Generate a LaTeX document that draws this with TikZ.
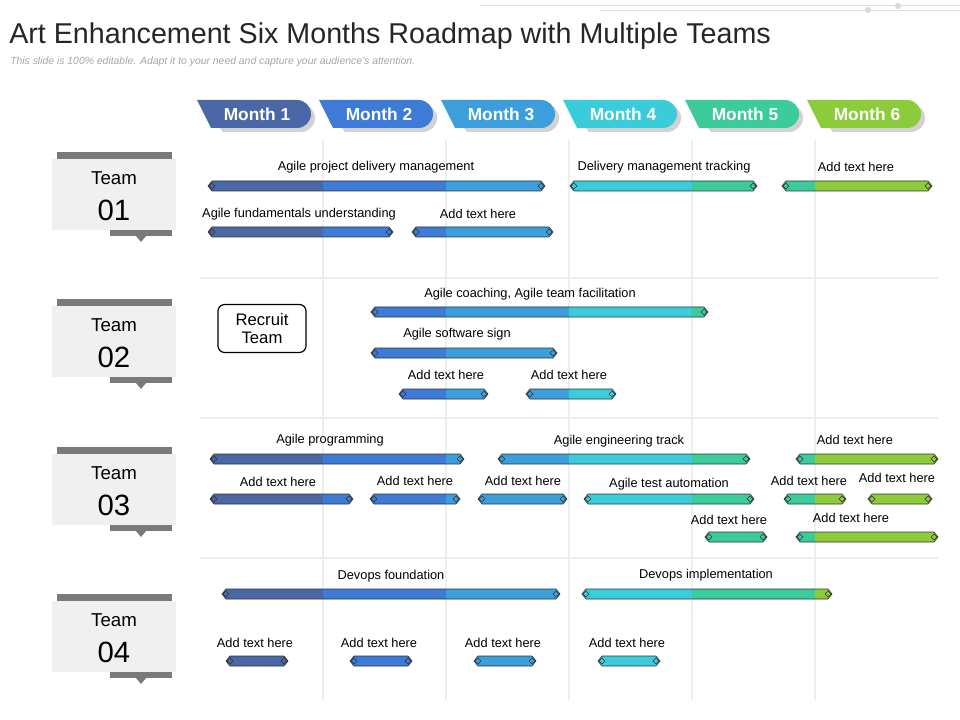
\documentclass[tikz,border=0pt]{standalone}
\usepackage{fontspec}
\setmainfont{Liberation Sans}
\definecolor{cA}{HTML}{4A68A6}
\definecolor{cB}{HTML}{3D7BD6}
\definecolor{cC}{HTML}{3C9FDB}
\definecolor{cD}{HTML}{3BCCDC}
\definecolor{cE}{HTML}{3CCB9A}
\definecolor{cF}{HTML}{8CCB3A}
\definecolor{grid}{HTML}{EEEEEE}
\definecolor{tbox}{HTML}{F0F0F0}
\definecolor{tdark}{HTML}{7A7A7A}
\newcommand\roadbar[3]{%
  \begin{scope}
    \clip (#1,#3) -- (#1+4,#3-5) -- (#2-4,#3-5) -- (#2,#3) -- (#2-4,#3+5) -- (#1+4,#3+5) -- cycle;
    \fill[cA] (0,#3-6) rectangle (323,#3+6);
    \fill[cB] (323,#3-6) rectangle (446,#3+6);
    \fill[cC] (446,#3-6) rectangle (569,#3+6);
    \fill[cD] (569,#3-6) rectangle (692,#3+6);
    \fill[cE] (692,#3-6) rectangle (815,#3+6);
    \fill[cF] (815,#3-6) rectangle (960,#3+6);
  \end{scope}
  \draw[barline] (#1,#3) -- (#1+4,#3-5) -- (#2-4,#3-5) -- (#2,#3) -- (#2-4,#3+5) -- (#1+4,#3+5) -- cycle;
  \draw[barline] (#1+1,#3) -- (#1+4,#3-3) -- (#1+7,#3) -- (#1+4,#3+3) -- cycle;
  \draw[barline] (#2-1,#3) -- (#2-4,#3-3) -- (#2-7,#3) -- (#2-4,#3+3) -- cycle;
}
\newcommand\tabmonth[4]{%
  \fill[gray!35] (#1+4,104) -- (#1+104,104) arc[start angle=-90,end angle=90,radius=14] -- (#1+26,132) -- cycle;
  \fill[#2] (#1,100) -- (#1+100,100) arc[start angle=-90,end angle=90,radius=14] -- (#1+14,128) -- cycle;
  \node[monthtxt] (#4) at (#1+60,114) {Month #3};
}
\newcommand\teambox[3]{%
  \fill[tdark] (57,#1-7) rectangle (172,#1);
  \fill[tbox] (52,#1) rectangle (176,#1+71);
  \fill[tdark] (110,#1+71) rectangle (172,#1+77);
  \fill[tdark] (136,#1+77) -- (146,#1+77) -- (141,#1+83) -- cycle;
  \node[teamtxt] (#3a) at (114,#1+19) {Team};
  \node[font=\fontsize{22}{24}\selectfont] (#3) at (114,#1+51) {#2};
}
\begin{document}
\begin{tikzpicture}[x=0.75pt,y=-0.75pt,
  barline/.style={draw=black!80,line width=0.5pt},
  lbl/.style={font=\fontsize{9.6}{11}\selectfont,inner sep=0pt},
  monthtxt/.style={text=white,font=\bfseries\fontsize{13}{15}\selectfont},
  teamtxt/.style={font=\fontsize{14}{17}\selectfont}]
\useasboundingbox (0,0) rectangle (960,720);
\fill[white] (0,0) rectangle (960,720);
% top decoration
\draw[gray!25,line width=0.6pt] (480,5) -- (960,5);
\draw[gray!25,line width=0.6pt] (600,10) -- (960,10);
\fill[gray!30] (868,10) circle (3);
\fill[gray!30] (898,6) circle (3);
\node[anchor=west,inner sep=0pt,font=\fontsize{21.5}{24}\selectfont,text=black!85] (title) at (9,36) {Art Enhancement Six Months Roadmap with Multiple Teams};
\node[anchor=west,inner sep=0pt,font=\itshape\fontsize{7.8}{9}\selectfont,text=gray!70] (sub) at (10,62) {This slide is 100\% editable. Adapt it to your need and capture your audience's attention.};
% grid
\foreach \x in {323,446,569,692,815} \draw[grid,line width=0.8pt] (\x,140) -- (\x,700);
\foreach \y in {278,418,558} \draw[grid,line width=0.8pt] (200,\y) -- (938,\y);
% month tabs
\tabmonth{197}{cA}{1}{m1}
\tabmonth{319}{cB}{2}{m2}
\tabmonth{441}{cC}{3}{m3}
\tabmonth{563}{cD}{4}{m4}
\tabmonth{685}{cE}{5}{m5}
\tabmonth{807}{cF}{6}{m6}
% teams
\teambox{159}{01}{t1}
\teambox{306}{02}{t2}
\teambox{454}{03}{t3}
\teambox{601}{04}{t4}
\node[draw=black,line width=0.9pt,rounded corners=5pt,minimum width=66pt,minimum height=36pt,align=center,font=\fontsize{12.5}{13.5}\selectfont] (rec) at (262,328.5) {Recruit\\Team};
% team 1
\roadbar{208}{545}{186} \node[lbl] (l1) at (376,167) {Agile project delivery management};
\roadbar{570}{757}{186} \node[lbl] (l2) at (664,167) {Delivery management tracking};
\roadbar{782}{932}{186} \node[lbl] (l3) at (856,167) {Add text here};
\roadbar{208}{393}{232} \node[lbl] (l4) at (299,214) {Agile fundamentals understanding};
\roadbar{412}{553}{232} \node[lbl] (l5) at (478,214) {Add text here};
% team 2
\roadbar{371}{708}{312} \node[lbl] (l6) at (530,294) {Agile coaching, Agile team facilitation};
\roadbar{371}{557}{353} \node[lbl] (l7) at (457,334) {Agile software sign};
\roadbar{399}{488}{394} \node[lbl] (l8) at (446,375) {Add text here};
\roadbar{526}{616}{394} \node[lbl] (l9) at (569,375) {Add text here};
% team 3
\roadbar{210}{464}{459} \node[lbl] (l10) at (330,440) {Agile programming};
\roadbar{498}{750}{459} \node[lbl] (l11) at (619,441) {Agile engineering track};
\roadbar{796}{938}{459} \node[lbl] (l12) at (855,440) {Add text here};
\roadbar{210}{353}{499} \node[lbl] (l13) at (278,482) {Add text here};
\roadbar{370}{460}{499} \node[lbl] (l14) at (415,481) {Add text here};
\roadbar{478}{567}{499} \node[lbl] (l15) at (523,481) {Add text here};
\roadbar{584}{754}{499} \node[lbl] (l16) at (669,484) {Agile test automation};
\roadbar{784}{846}{499} \node[lbl] (l17) at (809,481) {Add text here};
\roadbar{868}{932}{499} \node[lbl] (l18) at (897,478) {Add text here};
\roadbar{705}{767}{537} \node[lbl] (l19) at (729,520) {Add text here};
\roadbar{796}{938}{537} \node[lbl] (l20) at (851,518) {Add text here};
% team 4
\roadbar{222}{560}{594} \node[lbl] (l21) at (391,576) {Devops foundation};
\roadbar{582}{832}{594} \node[lbl] (l22) at (706,575) {Devops implementation};
\roadbar{226}{288}{661} \node[lbl] (l23) at (255,643) {Add text here};
\roadbar{350}{412}{661} \node[lbl] (l24) at (379,643) {Add text here};
\roadbar{474}{536}{661} \node[lbl] (l25) at (503,643) {Add text here};
\roadbar{598}{660}{661} \node[lbl] (l26) at (627,643) {Add text here};
\end{tikzpicture}
\end{document}
